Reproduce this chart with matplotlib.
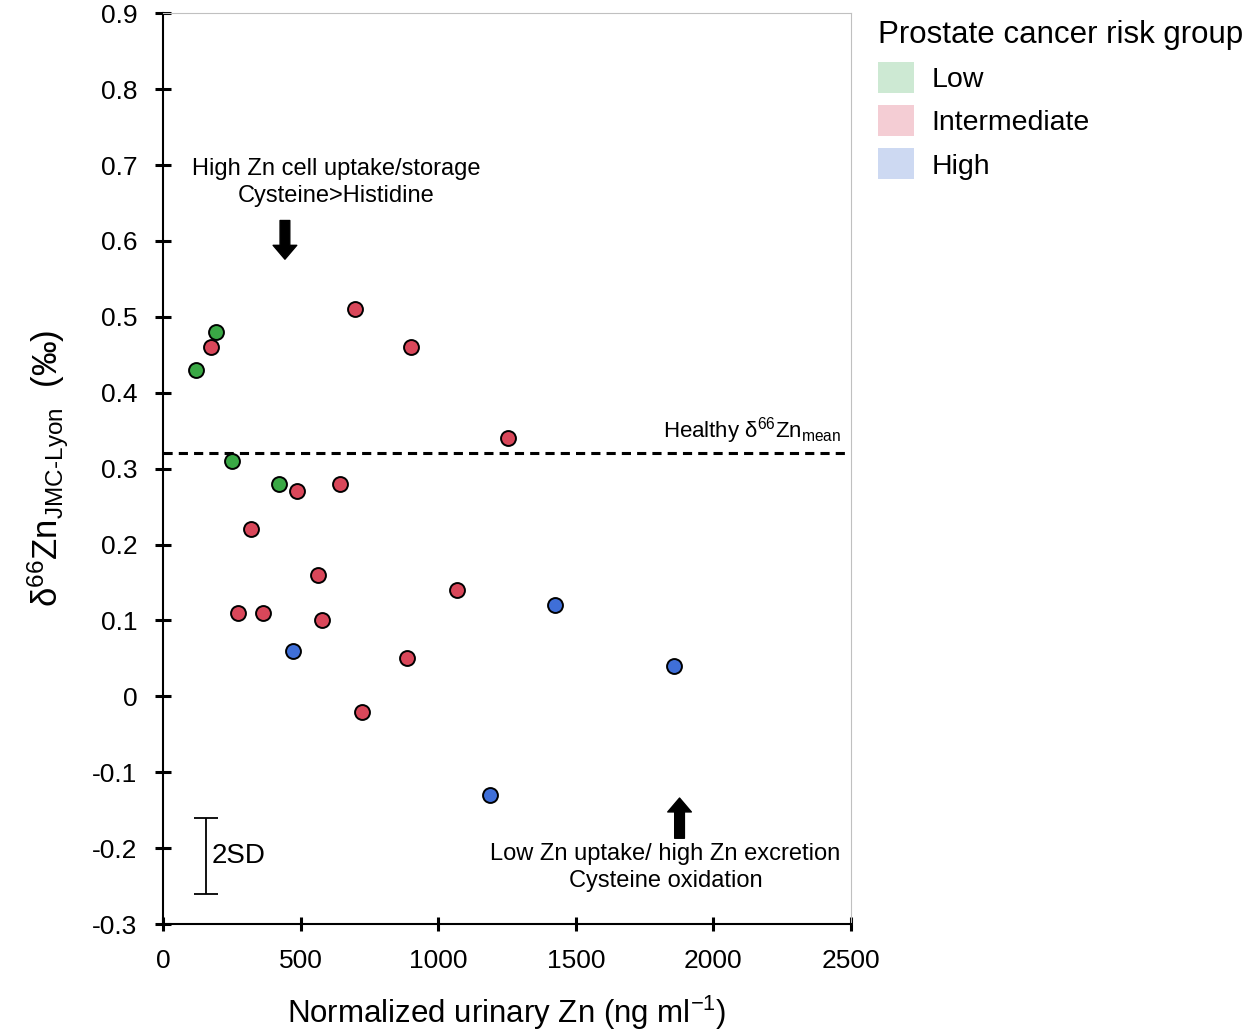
import numpy as np
import matplotlib
matplotlib.use("Agg")
import matplotlib.pyplot as plt
from matplotlib.patches import Patch

plt.rcParams['font.family'] = ['Liberation Sans', 'DejaVu Sans']
plt.rcParams['mathtext.fontset'] = 'custom'
plt.rcParams['mathtext.rm'] = 'Liberation Sans'
plt.rcParams['mathtext.it'] = 'Liberation Sans:italic'

# data
low_zn = [120, 192, 250, 421]
low_d66 = [0.43, 0.48, 0.31, 0.28]

int_zn = [174, 697, 900, 1252, 486, 642, 319, 563, 272, 363, 577, 1067, 886, 722]
int_d66 = [0.46, 0.51, 0.46, 0.34, 0.27, 0.28, 0.22, 0.16, 0.11, 0.11, 0.10, 0.14, 0.05, -0.02]

high_zn = [472, 1426, 1858, 1187]
high_d66 = [0.06, 0.12, 0.04, -0.13]

healthy_mean = 0.32
sd2_center = -0.21
sd2_half = 0.05

groups = ['Low', 'Intermediate', 'High']
point_colors = ['#3aa845', '#d9475a', '#3f6fd8']
legend_colors = ['#cde9d3', '#f4cdd4', '#cdd9f2']

fig = plt.figure(figsize=(12.57, 10.33), dpi=100)
ax = fig.add_axes([0.1297, 0.1055, 0.677 - 0.1297, 0.9871 - 0.1055])

for xs, ys, c in zip([low_zn, int_zn, high_zn], [low_d66, int_d66, high_d66], point_colors):
    ax.scatter(xs, ys, s=115, color=c, edgecolor='black', linewidth=1.4, zorder=3)

ax.axhline(healthy_mean, color='black', ls=(0, (3, 2)), lw=2.2, zorder=2)
ax.text(2465, healthy_mean + 0.01, r'Healthy δ$^{66}$Zn$_{\mathrm{mean}}$',
        ha='right', va='bottom', fontsize=16)

# 2SD bar
ax.errorbar([156], [sd2_center], yerr=[sd2_half], color='black', lw=1.3,
            capsize=8.5, capthick=1.3)
ax.text(176, sd2_center, '2SD', ha='left', va='center', fontsize=20)

# arrows
arrow = dict(arrowstyle='simple,head_width=0.85,head_length=0.5,tail_width=0.35',
             color='black', shrinkA=0, shrinkB=0, mutation_scale=20)
ax.annotate('', xy=(443, 0.576), xytext=(443, 0.627), arrowprops=arrow)
ax.annotate('', xy=(1877, -0.134), xytext=(1877, -0.187), arrowprops=arrow)

ax.text(628, 0.677, 'High Zn cell uptake/storage\nCysteine>Histidine',
        ha='center', va='center', fontsize=17, linespacing=1.3)
ax.text(1826, -0.225, 'Low Zn uptake/ high Zn excretion\nCysteine oxidation',
        ha='center', va='center', fontsize=17, linespacing=1.3)

ax.set_xlim(0, 2500)
ax.set_ylim(-0.3, 0.9)
ax.set_xticks(np.arange(0, 2501, 500))
ax.set_yticks(np.round(np.arange(-0.3, 0.91, 0.1), 1))
ax.set_yticklabels(['-0.3', '-0.2', '-0.1', '0', '0.1', '0.2', '0.3', '0.4',
                    '0.5', '0.6', '0.7', '0.8', '0.9'])

ax.tick_params(axis='y', direction='inout', length=11, width=2.2, labelsize=19, pad=13)
ax.tick_params(axis='x', direction='inout', length=10, width=2.2, labelsize=19, pad=13)
for s in ['left', 'bottom']:
    ax.spines[s].set_linewidth(1.5)
for s in ['top', 'right']:
    ax.spines[s].set_color('#c0c0c0')
    ax.spines[s].set_linewidth(0.8)

ax.set_xlabel(r'Normalized urinary Zn (ng ml$^{-1}$)', fontsize=22.5, labelpad=15)
ax.set_ylabel(r'δ$^{66}\mathrm{Zn}_{\mathrm{JMC\text{-}Lyon}}$  (‰)', fontsize=25, labelpad=15)

handles = [Patch(facecolor=c, edgecolor='none', label=g) for c, g in zip(legend_colors, groups)]
leg = fig.legend(handles=handles, loc='upper left', bbox_to_anchor=(0.6785, 1.005),
                 frameon=False, fontsize=20.5, title='Prostate cancer risk group',
                 title_fontsize=22.5, alignment='left', handlelength=1.25, handleheight=1.3,
                 handletextpad=0.6, labelspacing=0.42)

fig.savefig('out.png', dpi=100)
